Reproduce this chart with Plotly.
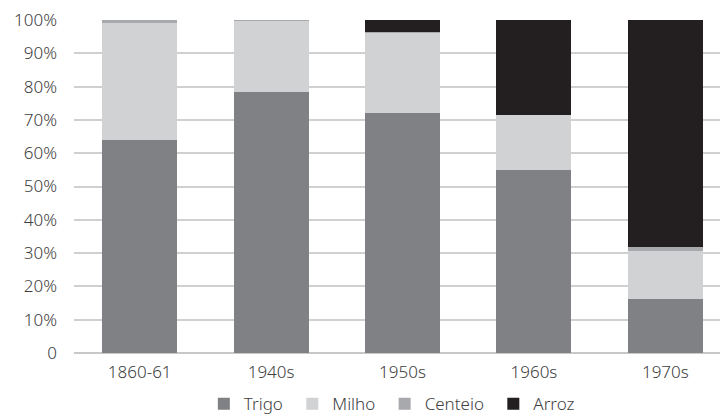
import plotly.graph_objects as go

# Share of each cereal per period (percent)
periods = ["1860-61", "1940s", "1950s", "1960s", "1970s"]
trigo = [64.0, 78.3, 72.1, 55.0, 16.2]
milho = [35.0, 21.5, 24.0, 16.5, 14.4]
centeio = [1.0, 0.2, 0.3, 0.0, 1.3]
arroz = [0.0, 0.0, 3.6, 28.5, 68.1]

y_ticks = [0, 10, 20, 30, 40, 50, 60, 70, 80, 90, 100]
y_tick_text = ["0"] + [f"{v}%" for v in y_ticks[1:]]

series = [
    ("Trigo", trigo, "#808184"),
    ("Milho", milho, "#d1d2d4"),
    ("Centeio", centeio, "#a7a9ac"),
    ("Arroz", arroz, "#231f20"),
]

pad = "\u00a0"  # extra room between legend entries

fig = go.Figure()
for i, (name, vals, color) in enumerate(series):
    label = name if i == len(series) - 1 else name + pad
    fig.add_trace(go.Bar(
        x=list(range(len(periods))), y=vals, name=label,
        marker=dict(color=color, line=dict(width=0)),
        width=0.57,
    ))

text_font = dict(family="Noto Sans", size=17, color="#404040", weight=300)
fig.update_layout(
    barmode="stack",
    width=720, height=415,
    margin=dict(l=74, r=0, t=20, b=62, autoexpand=False),
    paper_bgcolor="white", plot_bgcolor="white",
    font=text_font,
    legend=dict(orientation="h", x=0.492, xanchor="center",
                yref="container", y=0.026, yanchor="middle",
                font=text_font, itemwidth=30,
                traceorder="normal", itemclick=False),
    showlegend=True,
)
fig.update_xaxes(
    tickmode="array", tickvals=list(range(len(periods))), ticktext=periods,
    range=[-0.5, 4.416], showgrid=False, showline=False, ticks="",
    ticklabelstandoff=7,
    tickfont=text_font, automargin=False,
)
fig.update_yaxes(
    range=[0, 100], tickvals=y_ticks, ticktext=y_tick_text,
    showgrid=True, gridcolor="#d0d0d0", gridwidth=1.5,
    zeroline=True, zerolinecolor="#c8c8c8", zerolinewidth=2,
    ticks="", ticklabelstandoff=16, automargin=False,
    tickfont=text_font,
)

fig.write_html("out.html")
